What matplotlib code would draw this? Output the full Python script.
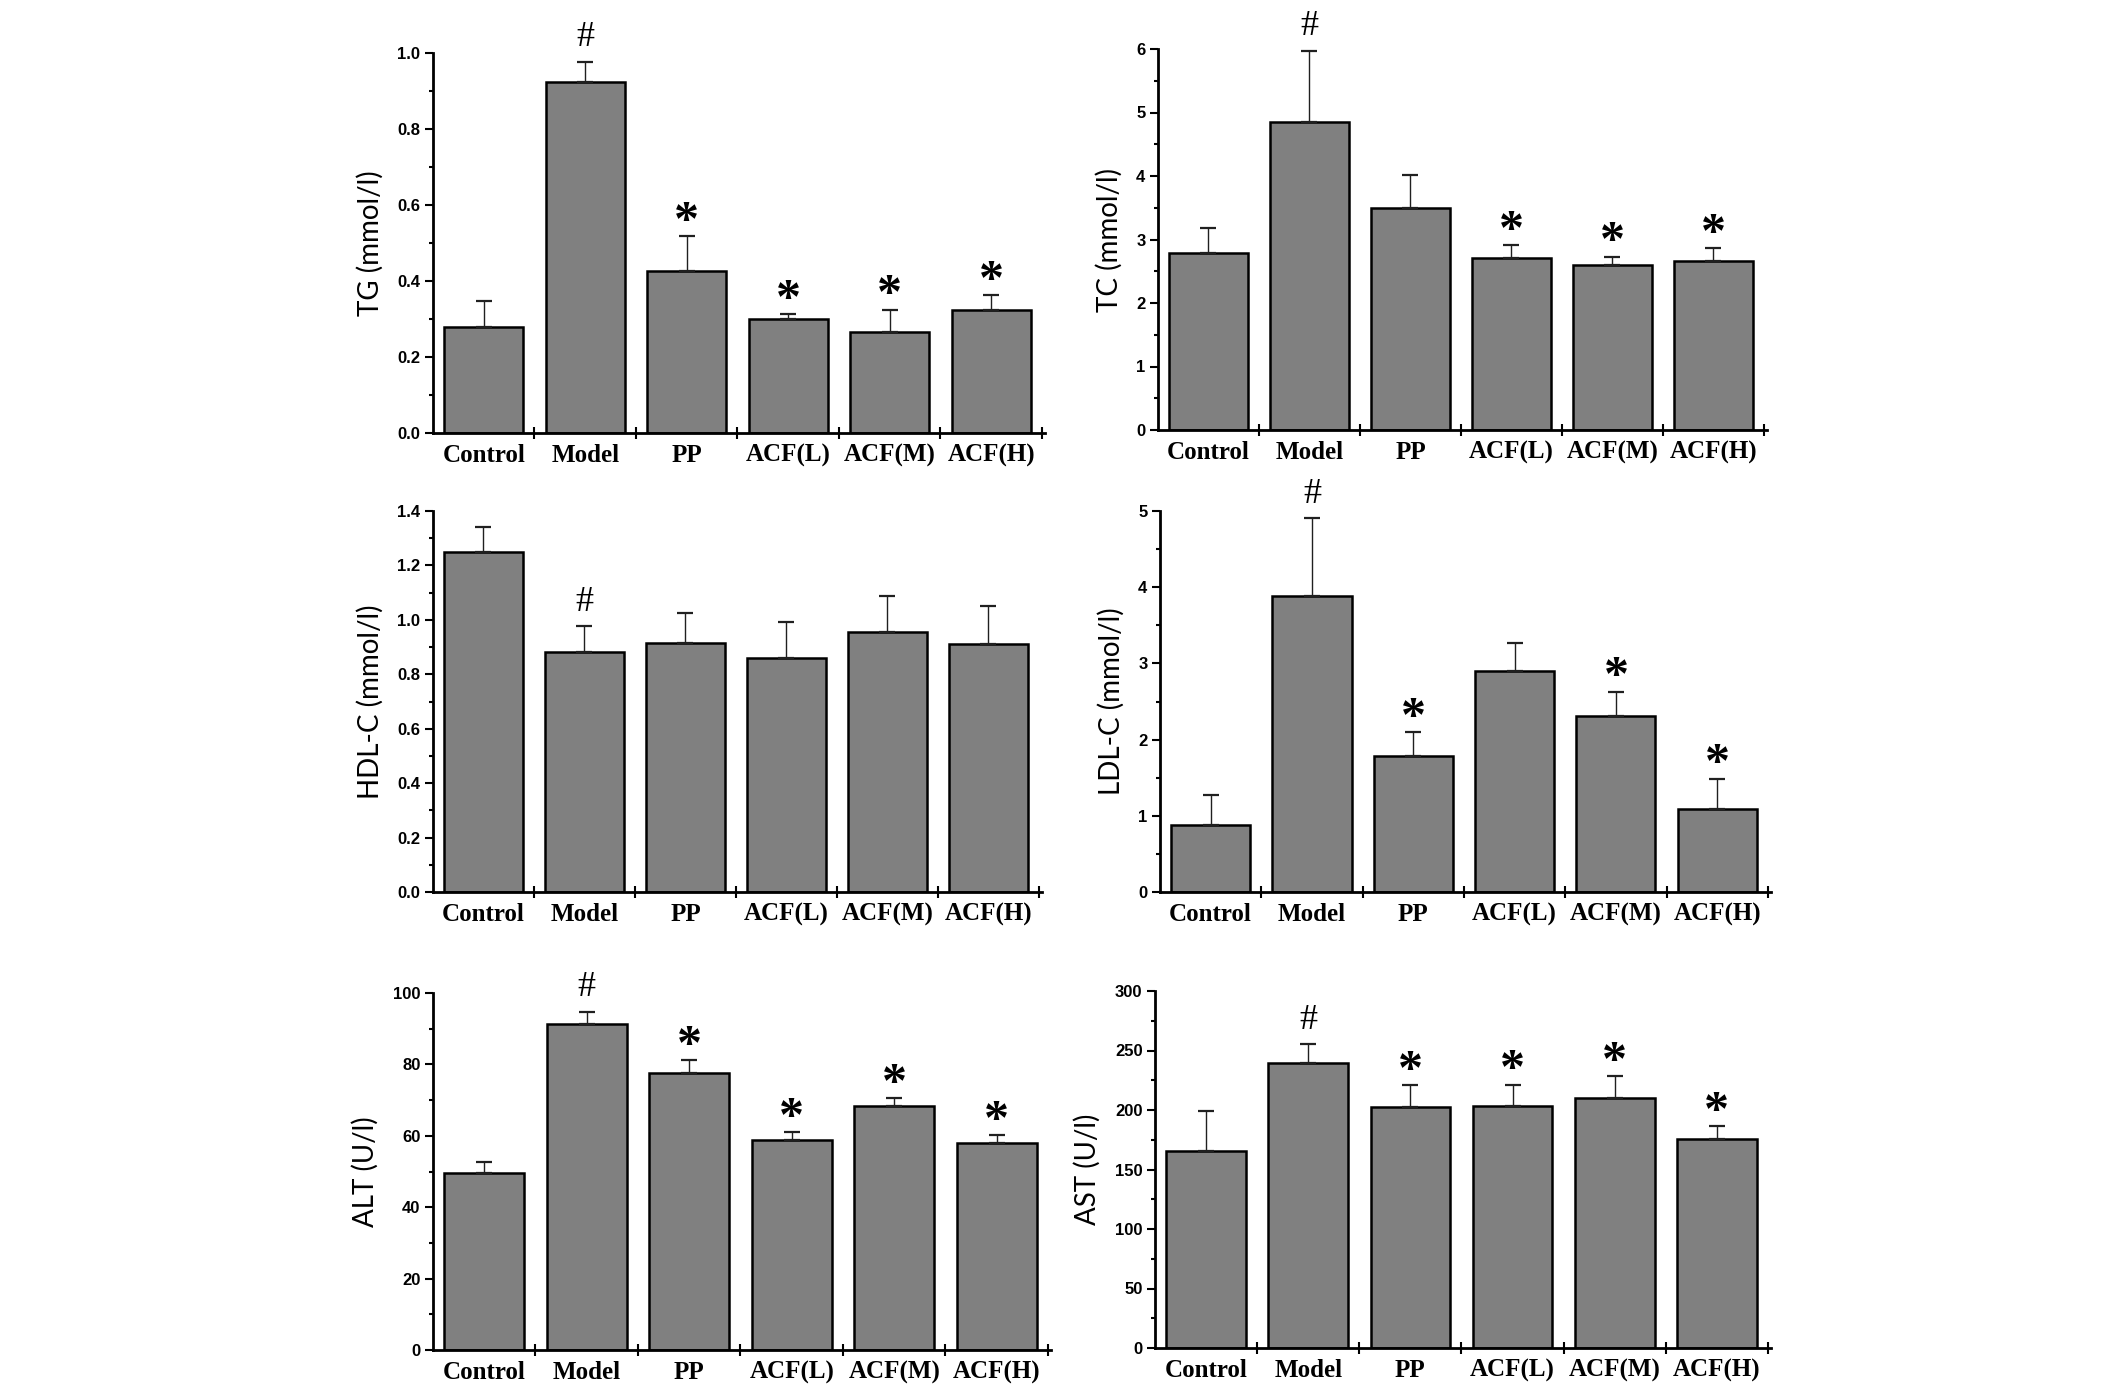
import numpy as np
import matplotlib
matplotlib.use('Agg')
import matplotlib.pyplot as plt
import matplotlib.ticker as mticker

#=========================================================================
# values
groups = ['Control', 'Model', 'PP', 'ACF(L)', 'ACF(M)', 'ACF(H)']

tg_mean = [0.279, 0.925, 0.427, 0.300, 0.265, 0.323]
tg_sd   = [0.069, 0.052, 0.091, 0.012, 0.060, 0.039]
tg_sig  = ['', '#', '*', '*', '*', '*']

tc_mean = [2.78, 4.845, 3.49, 2.71, 2.60, 2.66]
tc_sd   = [0.40, 1.13, 0.53, 0.20, 0.13, 0.20]
tc_sig  = ['', '#', '', '*', '*', '*']

hdl_mean = [1.251, 0.882, 0.914, 0.859, 0.955, 0.912]
hdl_sd   = [0.092, 0.094, 0.112, 0.132, 0.133, 0.139]
hdl_sig  = ['', '#', '', '', '', '']

ldl_mean = [0.883, 3.89, 1.78, 2.90, 2.31, 1.084]
ldl_sd   = [0.393, 1.02, 0.32, 0.37, 0.32, 0.402]
ldl_sig  = ['', '#', '*', '', '*', '*']

alt_mean = [49.7, 91.4, 77.7, 58.7, 68.4, 58.1]
alt_sd   = [3.0, 3.4, 3.4, 2.3, 2.2, 2.1]
alt_sig  = ['', '#', '*', '*', '*', '*']

ast_mean = [165.2, 239.9, 202.7, 203.2, 210.2, 175.3]
ast_sd   = [34.1, 15.6, 18.4, 18.2, 18.2, 10.9]
ast_sig  = ['', '#', '*', '*', '*', '*']

#=========================================================================
W, H = 2126, 1389

def px_axes(fig, l, r, t, b):
  return fig.add_axes([l/W, 1 - b/H, (r - l)/W, (b - t)/H])

def panel(ax, mean, sd, sig, ylabel, ymax, major, minor, fmt):
  x = np.arange(len(groups))
  ax.bar(x, mean, width=0.78, color='#808080', edgecolor='black',
         linewidth=1.8, zorder=2)
  ax.errorbar(x, mean, yerr=[np.zeros(len(sd)), sd], fmt='none',
              ecolor='#202020', elinewidth=1.0, capsize=6, capthick=1.6,
              zorder=3)

  for xi, m, s, k in zip(x, mean, sd, sig):
    if k == '*':
      ax.annotate('*', (xi, m + s), xytext=(0, 1), textcoords='offset points',
                  ha='center', va='baseline', fontsize=36, fontweight='bold',
                  family='Liberation Serif', annotation_clip=False, zorder=4)
    elif k == '#':
      ax.annotate('#', (xi, m + s), xytext=(0, 11), textcoords='offset points',
                  ha='center', va='baseline', fontsize=26,
                  family='Liberation Serif', annotation_clip=False, zorder=4)

  ax.set_xlim(-0.5, 5.53)
  ax.set_ylim(0, ymax)
  for s in ['top', 'right']:
    ax.spines[s].set_visible(False)
  for s in ['left', 'bottom']:
    ax.spines[s].set_linewidth(2.0)

  ax.yaxis.set_major_locator(mticker.MultipleLocator(major))
  ax.yaxis.set_minor_locator(mticker.MultipleLocator(minor))
  ax.yaxis.set_major_formatter(mticker.FormatStrFormatter(fmt))
  ax.tick_params(axis='y', which='major', direction='out', length=6,
                 width=1.5, pad=3)
  ax.tick_params(axis='y', which='minor', direction='out', length=3,
                 width=1.5)
  for lab in ax.get_yticklabels():
    lab.set_family('Liberation Sans')
    lab.set_fontweight('bold')
    lab.set_fontsize(12)

  ax.set_xticks(np.arange(0.5, 6.0, 1.0))
  ax.set_xticklabels([])
  ax.tick_params(axis='x', which='major', direction='inout', length=8,
                 width=1.5)
  ax.set_xticks(x, minor=True)
  ax.set_xticklabels(groups, minor=True, family='Liberation Serif',
                     fontweight='bold', fontsize=18)
  ax.tick_params(axis='x', which='minor', length=0, pad=8)

  ax.set_ylabel(ylabel, family='Lato', fontsize=20, labelpad=10)

#=========================================================================
fig = plt.figure(figsize=(W/100, H/100), dpi=100)

ax = px_axes(fig, 433, 1045, 53, 433)
panel(ax, tg_mean, tg_sd, tg_sig, 'TG (mmol/l)', 1.0, 0.2, 0.1, '%.1f')

ax = px_axes(fig, 1158, 1767, 49, 430)
panel(ax, tc_mean, tc_sd, tc_sig, 'TC (mmol/l)', 6, 1, 0.5, '%d')

ax = px_axes(fig, 433, 1042, 511, 892)
panel(ax, hdl_mean, hdl_sd, hdl_sig, 'HDL-C (mmol/l)', 1.4, 0.2, 0.1, '%.1f')

ax = px_axes(fig, 1160, 1771, 511, 892)
panel(ax, ldl_mean, ldl_sd, ldl_sig, 'LDL-C (mmol/l)', 5, 1, 0.5, '%d')

ax = px_axes(fig, 433, 1051, 993, 1350)
panel(ax, alt_mean, alt_sd, alt_sig, 'ALT (U/l)', 100, 20, 10, '%d')

ax = px_axes(fig, 1155, 1771, 991, 1348)
panel(ax, ast_mean, ast_sd, ast_sig, 'AST (U/l)', 300, 50, 25, '%d')

plt.savefig('out.png', dpi=100, facecolor='white')
plt.close()
